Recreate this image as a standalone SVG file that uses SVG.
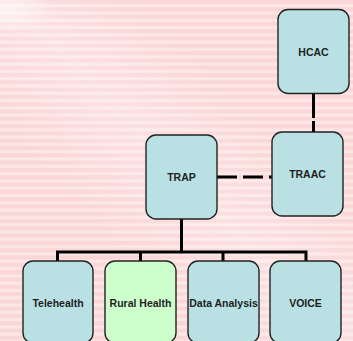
<svg xmlns="http://www.w3.org/2000/svg" width="353" height="341" viewBox="0 0 353 341">
<defs>
<pattern id="stripes" width="8" height="7.3" patternUnits="userSpaceOnUse">
<rect width="8" height="7.3" fill="#fde6e6"/>
<rect y="0" width="8" height="4" fill="#fad6d6"/>
</pattern>
<radialGradient id="glow" cx="0" cy="0" r="1" gradientUnits="userSpaceOnUse" gradientTransform="translate(8 10) scale(45 25)">
<stop offset="0" stop-color="#ffffff" stop-opacity="0.6"/>
<stop offset="1" stop-color="#ffffff" stop-opacity="0"/>
</radialGradient>
<linearGradient id="band" x1="0" y1="341" x2="353" y2="0" gradientUnits="userSpaceOnUse">
<stop offset="0.3" stop-color="#ffffff" stop-opacity="0"/>
<stop offset="0.5" stop-color="#ffffff" stop-opacity="0.25"/>
<stop offset="0.7" stop-color="#ffffff" stop-opacity="0"/>
</linearGradient>
</defs>
<style>
.box{fill:#b9e0e3;stroke:#222;stroke-width:1.4}
.green{fill:#ccffcc}
.lbl{font-family:"Liberation Sans",Arial,sans-serif;font-weight:bold;font-size:10.5px;fill:#1e1e1e;text-anchor:middle}
.conn{stroke:#000;stroke-width:3;fill:none}
</style>
<rect width="353" height="341" fill="url(#stripes)"/>
<rect width="353" height="341" fill="url(#band)"/>
<rect width="353" height="341" fill="url(#glow)"/>
<g id="connectors">
<line class="conn" x1="313.5" y1="93" x2="313.5" y2="118"/>
<line class="conn" x1="313.5" y1="121" x2="313.5" y2="132"/>
<line class="conn" x1="217" y1="177" x2="272" y2="177" stroke-dasharray="20 6"/>
<polyline class="conn" points="181.5,219 181.5,252"/>
<polyline class="conn" points="57.5,261 57.5,252 306,252 306,261"/>
<line class="conn" x1="140.5" y1="252" x2="140.5" y2="261"/>
<line class="conn" x1="223" y1="252" x2="223" y2="261"/>
</g>
<g id="hcac"><rect class="box" x="278" y="9.5" width="71" height="84" rx="10"/><text class="lbl" x="313.5" y="55.5">HCAC</text></g>
<g id="traac"><rect class="box" x="272" y="132" width="71" height="84" rx="10"/><text class="lbl" x="307.5" y="178">TRAAC</text></g>
<g id="trap"><rect class="box" x="146" y="135" width="71" height="84" rx="10"/><text class="lbl" x="181.5" y="180.5">TRAP</text></g>
<g id="telehealth"><rect class="box" x="23" y="261" width="70" height="82" rx="10"/><text class="lbl" x="58" y="306.5">Telehealth</text></g>
<g id="rural-health"><rect class="box green" x="105" y="261" width="71" height="82" rx="10"/><text class="lbl" x="140.5" y="306.5">Rural Health</text></g>
<g id="data-analysis"><rect class="box" x="188" y="261" width="71" height="82" rx="10"/><text class="lbl" x="223.5" y="306.5">Data Analysis</text></g>
<g id="voice"><rect class="box" x="270" y="261" width="71" height="82" rx="10"/><text class="lbl" x="305.5" y="306.5">VOICE</text></g>
</svg>
